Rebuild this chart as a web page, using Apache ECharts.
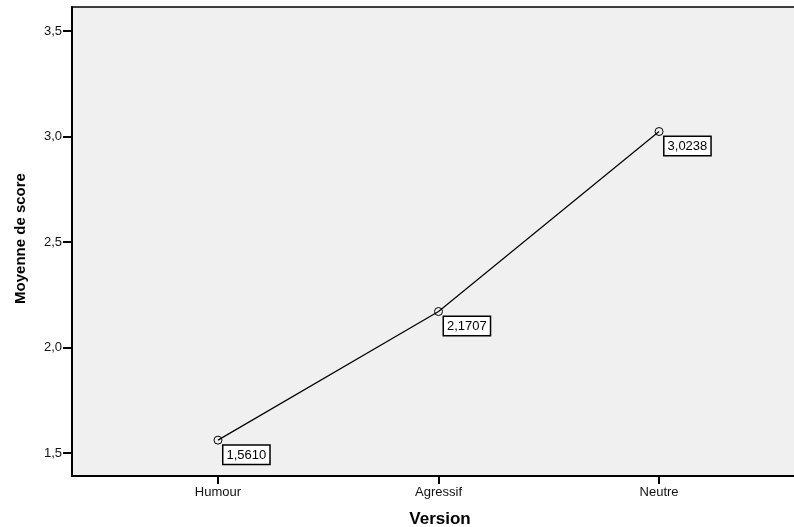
<!DOCTYPE html>
<html>
<head>
<meta charset="utf-8">
<script src="https://cdn.jsdelivr.net/npm/echarts@6/dist/echarts.min.js"></script>
<style>
  html, body { margin: 0; padding: 0; background: #fff; }
  #chart { width: 794px; height: 527px; }
</style>
</head>
<body>
<div id="chart"></div>
<script>
  // categories and means
  var categories = ['Humour', 'Agressif', 'Neutre'];
  var means = [1.5610, 2.1707, 3.0238];
  var yTicks = [1.5, 2.0, 2.5, 3.0, 3.5];
  var xTicks = [0, 1, 2];

  var chart = echarts.init(document.getElementById('chart'));

  var points = means.map(function (v, i) { return [i, v]; });

  var font = 'Liberation Sans';

  var option = {
    animation: false,
    grid: {
      left: 72,
      right: 0,
      top: 7,
      bottom: 51,
      outerBoundsMode: 'none',
      show: true,
      backgroundColor: '#f0f0f0',
      borderWidth: 0
    },
    xAxis: [{
      type: 'value',
      min: -0.662,
      max: 2.612,
      name: 'Version',
      nameLocation: 'middle',
      nameGap: 35,
      nameTextStyle: { fontFamily: font, fontWeight: 'bold', fontSize: 17, color: '#000', padding: [0, 0, 0, 14] },
      splitLine: { show: false },
      axisLine: { onZero: false, lineStyle: { color: '#000', width: 2 } },
      axisTick: { customValues: xTicks, length: 8, lineStyle: { color: '#000', width: 2 } },
      axisLabel: {
        customValues: xTicks,
        margin: 10,
        fontFamily: font,
        fontSize: 13,
        color: '#111',
        formatter: function (v) { return categories[Math.round(v)]; }
      }
    }, {
      // top frame line only
      type: 'value',
      position: 'top',
      min: -0.662,
      max: 2.612,
      splitLine: { show: false },
      axisLine: { onZero: false, lineStyle: { color: '#000', width: 1.5 } },
      axisTick: { show: false },
      axisLabel: { show: false }
    }],
    yAxis: {
      type: 'value',
      min: 1.391,
      max: 3.614,
      name: 'Moyenne de score',
      nameLocation: 'middle',
      nameGap: 44,
      nameTextStyle: { fontFamily: font, fontWeight: 'bold', fontSize: 15, color: '#000', padding: [0, 0, 0, 6] },
      splitLine: { show: false },
      axisLine: { show: true, onZero: false, lineStyle: { color: '#000', width: 2 } },
      axisTick: { show: true, customValues: yTicks, length: 9, lineStyle: { color: '#000', width: 2 } },
      axisLabel: {
        customValues: yTicks,
        margin: 10,
        fontFamily: font,
        fontSize: 13,
        color: '#111',
        formatter: function (v) { return v.toFixed(1).replace('.', ','); }
      }
    },
    series: [{
      type: 'line',
      data: points,
      symbol: 'circle',
      symbolSize: 8,
      itemStyle: { color: 'transparent', borderColor: '#000', borderWidth: 1 },
      lineStyle: { color: '#000', width: 1.2 },
      label: {
        show: true,
        position: [10, 10],
        fontFamily: font,
        fontSize: 13,
        color: '#000',
        backgroundColor: '#fff',
        borderColor: '#000',
        borderWidth: 1.5,
        padding: [3, 3, 2, 3],
        formatter: function (p) { return p.value[1].toFixed(4).replace('.', ','); }
      }
    }]
  };

  chart.setOption(option);
</script>
</body>
</html>
